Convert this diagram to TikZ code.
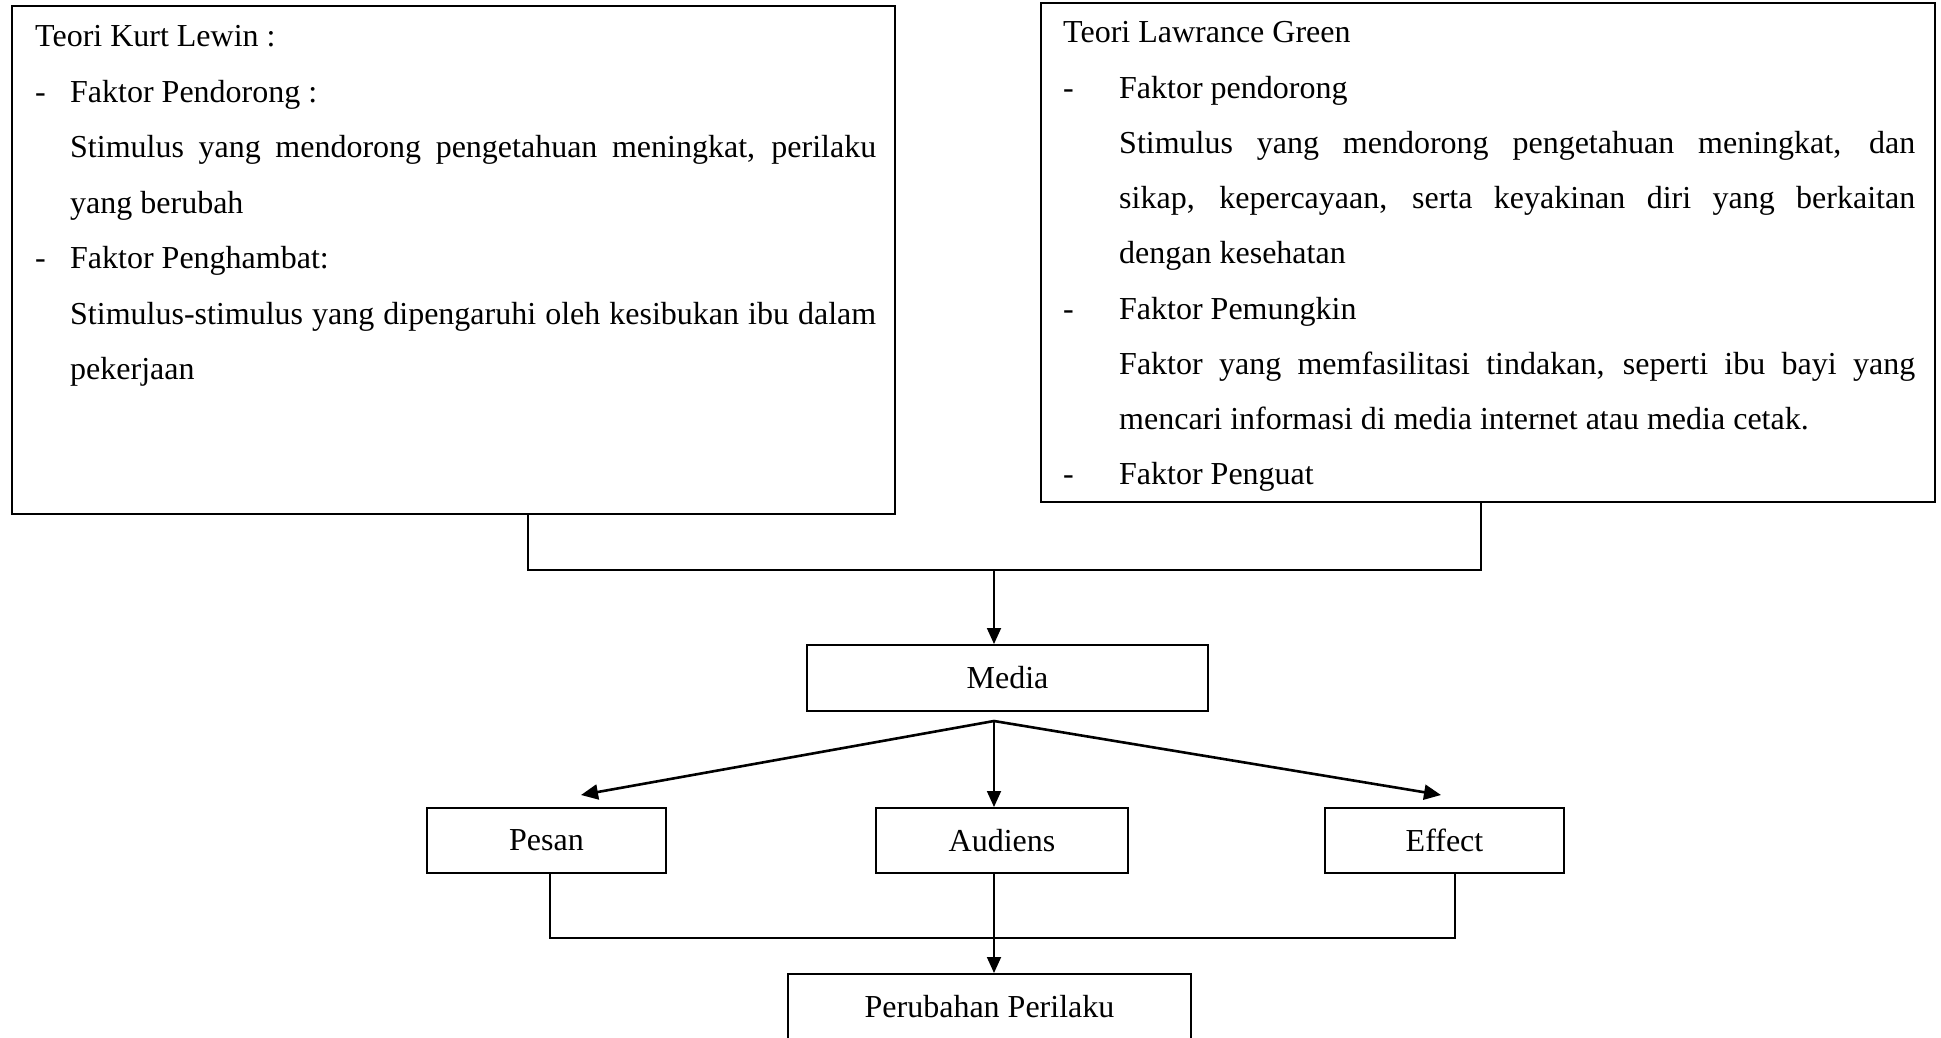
\documentclass[tikz,border=0pt]{standalone}
\usepackage{fontspec}
\setmainfont{Liberation Serif}
\usetikzlibrary{arrows.meta}
\newcommand\dlitem[2]{\hbox{\hbox to #1{-\hfil}#2}}
\begin{document}
\begin{tikzpicture}[x=1pt,y=-1pt,
  box/.style={draw, line width=2pt, inner sep=0pt, rectangle, font=\fontsize{32}{38}\selectfont},
  conn/.style={line width=1.8pt},
  arr/.style={line width=1.8pt, -{Triangle[length=16pt,width=14pt]}},
  fan/.style={line width=2.6pt, -{Triangle[length=17pt,width=15pt]}},
  txt/.style={inner sep=0pt, anchor=base west, font=\fontsize{32}{55}\selectfont}]
\useasboundingbox (0,0) rectangle (1941,1038);
\fill[white] (0,0) rectangle (1941,1038);

% boxes
\node[box, minimum width=883pt, minimum height=508pt] (kl) at (453.5,260) {};
\node[box, minimum width=894pt, minimum height=499pt] (lg) at (1488,252.5) {};
\node[box, minimum width=401pt, minimum height=66pt] (media) at (1007.5,678) {Media};
\node[box, minimum width=239pt, minimum height=65pt] (pesan) at (546.5,840.5) {Pesan};
\node[box, minimum width=252pt, minimum height=65pt] (aud) at (1002,840.5) {Audiens};
\node[box, minimum width=239pt, minimum height=65pt] (eff) at (1444.5,840.5) {Effect};
\node[box, minimum width=403pt, minimum height=66pt] (pp) at (989.5,1007) {Perubahan Perilaku};

% texts
\node[txt] (lewin) at (35,46.7) {\vtop{\baselineskip=55.5pt \lineskiplimit=-100pt \hsize=850pt
\hbox{Teori Kurt Lewin :}
\dlitem{35pt}{Faktor Pendorong :}
\hbox{\hskip35pt\hbox to 806pt{Stimulus yang mendorong pengetahuan meningkat, perilaku}}
\hbox{\hskip35pt yang berubah}
\dlitem{35pt}{Faktor Penghambat:}
\hbox{\hskip35pt\hbox to 806pt{Stimulus-stimulus yang dipengaruhi oleh kesibukan ibu dalam}}
\hbox{\hskip35pt pekerjaan}
}};
\node[txt] (green) at (1063,43) {\vtop{\baselineskip=55.25pt \lineskiplimit=-100pt \hsize=860pt
\hbox{Teori Lawrance Green}
\dlitem{56pt}{Faktor pendorong}
\hbox{\hskip56pt\hbox to 796pt{Stimulus yang mendorong pengetahuan meningkat, dan}}
\hbox{\hskip56pt\hbox to 796pt{sikap, kepercayaan, serta keyakinan diri yang berkaitan}}
\hbox{\hskip56pt dengan kesehatan}
\dlitem{56pt}{Faktor Pemungkin}
\hbox{\hskip56pt\hbox to 796pt{Faktor yang memfasilitasi tindakan, seperti ibu bayi yang}}
\hbox{\hskip56pt mencari informasi di media internet atau media cetak.}
\dlitem{56pt}{Faktor Penguat}
}};

% junction coordinates
\coordinate (j1) at (528,570);
\coordinate (j2) at (1481,570);
\coordinate (jm) at (994,570);
\coordinate (apex) at (994,721);
\coordinate (tp) at (581,795);
\coordinate (te) at (1441,795);
\coordinate (b1) at (550,938);
\coordinate (b2) at (1455,938);
\coordinate (bm) at (994,938);

% top connectors
\draw[conn] (kl.south -| j1) -- (j1) -- (j2) -- (lg.south -| j2);
\draw[arr] (jm) -- (media.north -| jm);

% fan
\draw[fan] (apex) -- (tp);
\draw[fan] (apex) -- (te);
\draw[arr] (apex) -- (aud.north -| apex);

% bottom connectors
\draw[conn] (pesan.south -| b1) -- (b1) -- (b2) -- (eff.south -| b2);
\draw[arr] (aud.south -| bm) -- (pp.north -| bm);
\end{tikzpicture}
\end{document}
